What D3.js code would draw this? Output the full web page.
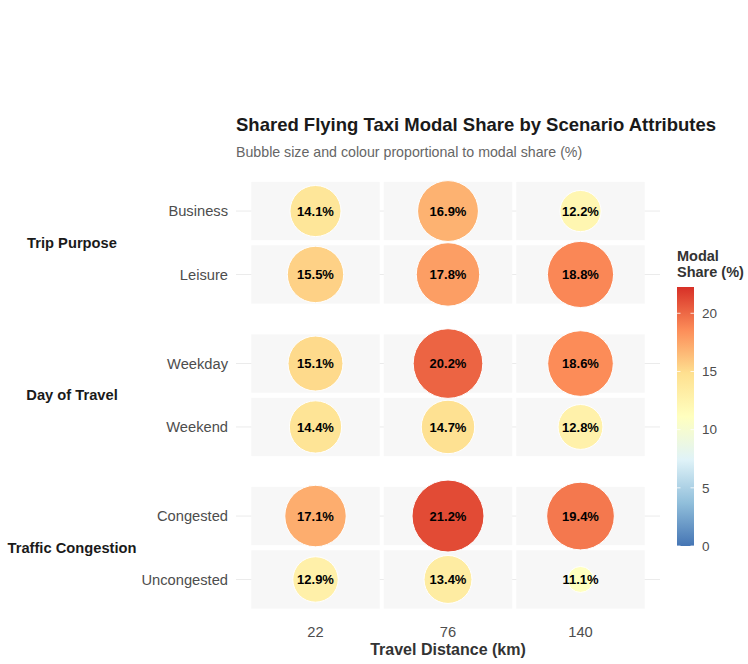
<!DOCTYPE html>
<html>
<head>
<meta charset="utf-8">
<script src="https://cdn.jsdelivr.net/npm/d3@7"></script>
<style>
  body { margin: 0; background: #fff; }
  text { font-family: "Liberation Sans", Arial, sans-serif; }
</style>
</head>
<body>
<script>
// Data
const distances = ["22", "76", "140"];
const facets = ["Trip Purpose", "Day of Travel", "Traffic Congestion"];
const levels = [["Business", "Leisure"], ["Weekday", "Weekend"], ["Congested", "Uncongested"]];
const shares = [
  [[14.1, 16.9, 12.2], [15.5, 17.8, 18.8]],
  [[15.1, 20.2, 18.6], [14.4, 14.7, 12.8]],
  [[17.1, 21.2, 19.4], [12.9, 13.4, 11.1]]
];
const legendTicks = [0, 5, 10, 15, 20];

const width = 748, height = 664;
const panelLeft = 236, panelRight = 660;
const panelTop = 173, panelH = 139.5, panelGap = 13;

const svg = d3.select("body").append("svg")
  .attr("width", width)
  .attr("height", height);

// flatten into cells
const cells = [];
facets.forEach((f, i) => levels[i].forEach((lv, j) => distances.forEach((d, k) => {
  cells.push({facet: i, level: lv, dist: d, value: shares[i][j][k]});
})));
const allVals = cells.map(c => c.value);
const vMin = d3.min(allVals), vMax = d3.max(allVals);

// Scales
const x = d3.scalePoint().domain(distances).range([panelLeft, panelRight]).padding(0.6);
const stepX = x.step();

const size = d3.scaleSqrt().domain([0, vMax - vMin]).range([13, 36]);

const limitMax = vMax * 1.05;
const rdylbu = ["#4575b4", "#91bfdb", "#e0f3f8", "#ffffbf", "#fee090", "#fc8d59", "#d73027"];
const color = d3.scaleLinear()
  .domain(d3.range(7).map(i => i / 6 * limitMax))
  .range(rdylbu);

// Title
svg.append("text").attr("x", 236).attr("y", 131)
  .style("font-size", "18.5px").style("font-weight", "bold").attr("fill", "#1a1a1a")
  .text("Shared Flying Taxi Modal Share by Scenario Attributes");
svg.append("text").attr("x", 236).attr("y", 157)
  .style("font-size", "14.2px").attr("fill", "#666")
  .text("Bubble size and colour proportional to modal share (%)");

// Panels
facets.forEach((f, i) => {
  const top = panelTop + i * (panelH + panelGap);
  const y = d3.scalePoint().domain(levels[i]).range([top, top + panelH]).padding(0.6);
  const stepY = y.step();
  const g = svg.append("g");

  // grid lines
  g.selectAll("line.grid").data(levels[i]).join("line")
    .attr("x1", panelLeft).attr("x2", panelRight)
    .attr("y1", d => y(d)).attr("y2", d => y(d))
    .attr("stroke", "#ebebeb").attr("stroke-width", 1);

  const pc = cells.filter(c => c.facet === i);

  // tiles
  g.selectAll("rect").data(pc).join("rect")
    .attr("x", d => x(d.dist) - stepX * 0.97 / 2)
    .attr("y", d => y(d.level) - stepY * 0.92 / 2)
    .attr("width", stepX * 0.97)
    .attr("height", stepY * 0.92)
    .attr("fill", "#f7f7f7");

  // bubbles
  g.selectAll("circle").data(pc).join("circle")
    .attr("cx", d => x(d.dist))
    .attr("cy", d => y(d.level))
    .attr("r", d => size(d.value - vMin))
    .attr("fill", d => color(d.value))
    .attr("stroke", "#fff").attr("stroke-width", 1);

  g.selectAll("text.val").data(pc).join("text")
    .attr("x", d => x(d.dist))
    .attr("y", d => y(d.level))
    .attr("dy", "0.35em")
    .attr("text-anchor", "middle")
    .style("font-size", "13px").style("font-weight", "bold").attr("fill", "#000")
    .text(d => d.value.toFixed(1) + "%");

  // y tick labels
  g.selectAll("text.lab").data(levels[i]).join("text")
    .attr("x", 228).attr("y", d => y(d)).attr("dy", "0.35em")
    .attr("text-anchor", "end")
    .style("font-size", "14.7px").attr("fill", "#4d4d4d")
    .text(d => d);

  // strip label
  g.append("text")
    .attr("x", 72).attr("y", top + panelH / 2).attr("dy", "0.35em")
    .attr("text-anchor", "middle")
    .style("font-size", "14.7px").style("font-weight", "bold").attr("fill", "#1a1a1a")
    .text(f);
});

// x axis labels
svg.selectAll("text.xlab").data(distances).join("text")
  .attr("x", d => x(d)).attr("y", 632).attr("dy", "0.35em")
  .attr("text-anchor", "middle")
  .style("font-size", "14.7px").attr("fill", "#4d4d4d")
  .text(d => d);
svg.append("text").attr("x", (panelLeft + panelRight) / 2).attr("y", 655)
  .attr("text-anchor", "middle")
  .style("font-size", "16px").style("font-weight", "bold").attr("fill", "#333")
  .text("Travel Distance (km)");

// Legend
const legX = 677, legTop = 287, legBottom = 546, legW = 17;
const ly = d3.scaleLinear().domain([0, limitMax]).range([legBottom, legTop]);

const grad = svg.append("defs").append("linearGradient")
  .attr("id", "grad").attr("x1", 0).attr("x2", 0).attr("y1", 1).attr("y2", 0);
grad.selectAll("stop").data(color.domain()).join("stop")
  .attr("offset", d => d / limitMax)
  .attr("stop-color", d => color(d));

svg.append("text").attr("x", legX).attr("y", 261)
  .style("font-size", "14.5px").style("font-weight", "bold").attr("fill", "#333")
  .text("Modal");
svg.append("text").attr("x", legX).attr("y", 277)
  .style("font-size", "14.5px").style("font-weight", "bold").attr("fill", "#333")
  .text("Share (%)");

svg.append("rect").attr("x", legX).attr("y", legTop)
  .attr("width", legW).attr("height", legBottom - legTop)
  .attr("fill", "url(#grad)");

const lt = svg.append("g");
lt.selectAll("line.l").data(legendTicks).join("line")
  .attr("x1", legX).attr("x2", legX + 3.5)
  .attr("y1", d => ly(d)).attr("y2", d => ly(d))
  .attr("stroke", "#fff").attr("stroke-opacity", 0.8);
lt.selectAll("line.r").data(legendTicks).join("line")
  .attr("x1", legX + legW - 3.5).attr("x2", legX + legW)
  .attr("y1", d => ly(d)).attr("y2", d => ly(d))
  .attr("stroke", "#fff").attr("stroke-opacity", 0.8);
lt.selectAll("text").data(legendTicks).join("text")
  .attr("x", legX + legW + 8).attr("y", d => ly(d)).attr("dy", "0.35em")
  .style("font-size", "13.5px").attr("fill", "#4d4d4d")
  .text(d => d);
</script>
</body>
</html>
